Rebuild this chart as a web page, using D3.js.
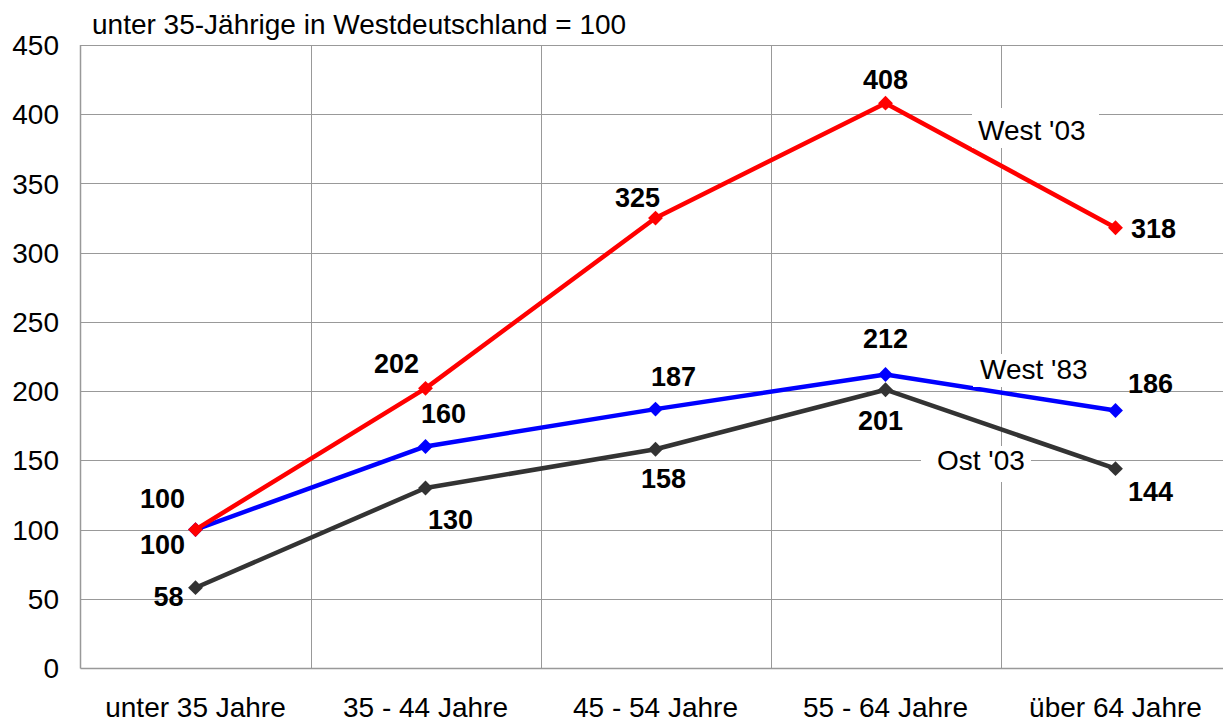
<!DOCTYPE html>
<html><head><meta charset="utf-8">
<script src="https://cdn.jsdelivr.net/npm/d3@7"></script>
<style>body{margin:0;background:#fff}svg{display:block}text{font-family:"Liberation Sans",Arial,sans-serif}</style>
</head><body>
<svg id="c" width="1223" height="722"></svg>
<script>
const categories = ["unter 35 Jahre","35 - 44 Jahre","45 - 54 Jahre","55 - 64 Jahre","über 64 Jahre"];
const west03 = [100,202,325,408,318];
const west83 = [100,160,187,212,186];
const ost03  = [58,130,158,201,144];
const yTicks = [0,50,100,150,200,250,300,350,400,450];
const title = "unter 35-Jährige in Westdeutschland = 100";
const seriesNames = ["West '03","West '83","Ost '03"];

// label offsets (layout, not data): baseline offsets from point
const labelOffsets = [
  [[-33,-22],[-29,-15],[-18,-11],[0,-14],[38,10]],
  [[-33,24],[18,-23],[18,-23],[0,-26],[35,-17]],
  [[-27,18],[25,41],[8,39],[-5,40],[35,32]]
];
const nameBoxes = [
  {x:972,y:108,w:127,h:40,tx:978,ty:140},
  {x:973,y:354,w:122,h:33,tx:980,ty:379},
  {x:921,y:446,w:110,h:36,tx:937,ty:470}
];
const colors = ["#ff0000","#0000ff","#333333"];

const svg = d3.select("#c");
const pL = 80.5, pR = 1230.5, pT = 45, pB = 668;
const x = d3.scaleBand().domain(categories).range([pL,pR]);
const y = d3.scaleLinear().domain([0,450]).range([pB,pT]);
const cx = c => x(c) + x.bandwidth()/2;

// grid
svg.append("g").selectAll("line").data(yTicks.filter(d=>d>0)).join("line")
  .attr("x1",pL).attr("x2",pR).attr("y1",d=>Math.round(y(d))+0.5).attr("y2",d=>Math.round(y(d))+0.5)
  .attr("stroke","#999").attr("stroke-width",1);
svg.append("g").selectAll("line").data(categories.slice(1)).join("line")
  .attr("x1",d=>Math.round(x(d))+0.5).attr("x2",d=>Math.round(x(d))+0.5).attr("y1",pT).attr("y2",pB)
  .attr("stroke","#999").attr("stroke-width",1);
// axes lines
svg.append("line").attr("x1",pL).attr("x2",pL).attr("y1",pT).attr("y2",pB+0.5).attr("stroke","#999").attr("stroke-width",1.5);
svg.append("line").attr("x1",pL).attr("x2",pR).attr("y1",pB+0.5).attr("y2",pB+0.5).attr("stroke","#999").attr("stroke-width",1.5);

// y tick labels
svg.append("g").selectAll("text").data(yTicks).join("text")
  .attr("x",59).attr("y",d=>y(d)).attr("dy","0.36em").attr("text-anchor","end")
  .attr("font-size",28).attr("fill","#000").text(d=>d);
// x labels
svg.append("g").selectAll("text").data(categories).join("text")
  .attr("x",d=>cx(d)).attr("y",717).attr("text-anchor","middle")
  .attr("font-size",28).attr("fill","#000").text(d=>d);
// title
svg.append("text").attr("x",92).attr("y",34).attr("font-size",28).attr("fill","#000").text(title);

const series = [west03, west83, ost03];
const line = d3.line().x((d,i)=>cx(categories[i])).y(d=>y(d));
[2,1,0].forEach(si=>{
  const g = svg.append("g");
  g.append("path").datum(series[si]).attr("d",line).attr("fill","none")
    .attr("stroke",colors[si]).attr("stroke-width",4.5).attr("stroke-linejoin","round");
  g.selectAll("path.m").data(series[si]).join("path").attr("class","m")
    .attr("d",d3.symbol(d3.symbolDiamond2,140)())
    .attr("transform",(d,i)=>`translate(${cx(categories[i])},${y(d)})`)
    .attr("fill",colors[si]);
});
nameBoxes.forEach((b,i)=>{
  svg.append("rect").attr("x",b.x).attr("y",b.y).attr("width",b.w).attr("height",b.h).attr("fill","#fff");
  svg.append("text").attr("x",b.tx).attr("y",b.ty).attr("font-size",28).attr("fill","#000").text(seriesNames[i]);
});
series.forEach((s,si)=>{
  svg.append("g").selectAll("text").data(s).join("text")
    .attr("x",(d,i)=>cx(categories[i])+labelOffsets[si][i][0])
    .attr("y",(d,i)=>y(d)+labelOffsets[si][i][1])
    .attr("text-anchor","middle").attr("font-size",27).attr("font-weight","bold").attr("fill","#000")
    .text(d=>d);
});
</script>
</body></html>
